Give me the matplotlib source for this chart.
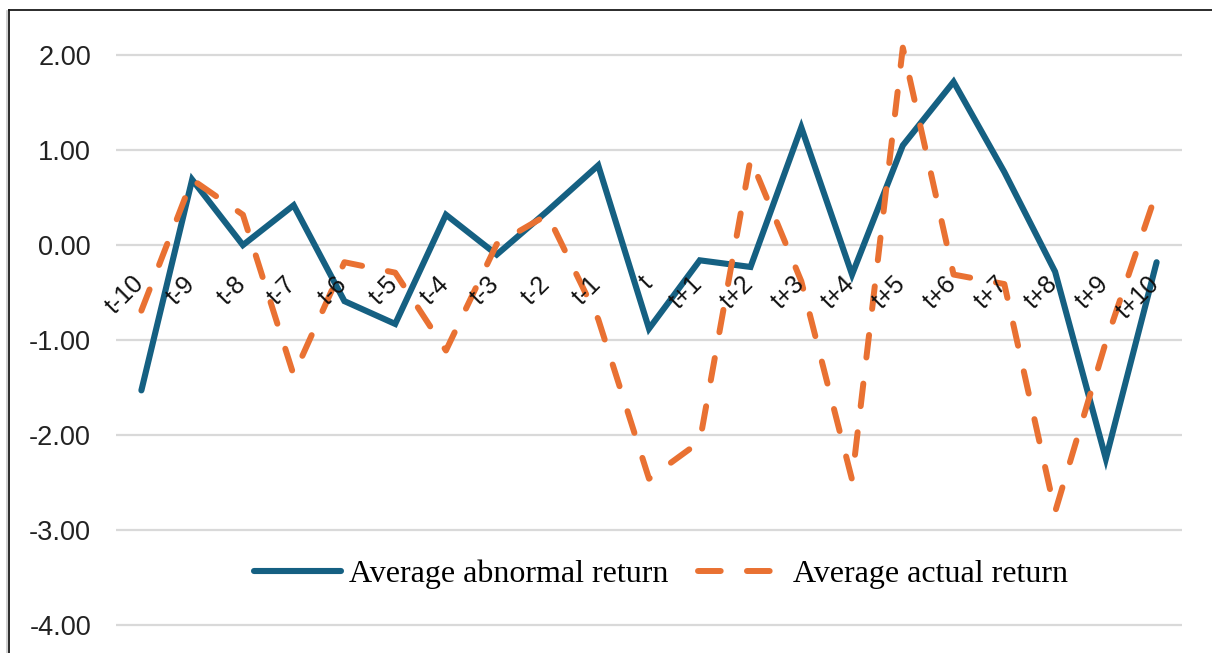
"""Average abnormal vs actual return around the event day (t-10 .. t+10)."""
import matplotlib
matplotlib.use("Agg")
import matplotlib.pyplot as plt
import matplotlib.transforms as mtransforms
from matplotlib.lines import Line2D

days = ["t-10", "t-9", "t-8", "t-7", "t-6", "t-5", "t-4", "t-3", "t-2", "t-1", "t",
        "t+1", "t+2", "t+3", "t+4", "t+5", "t+6", "t+7", "t+8", "t+9", "t+10"]
abnormal_return = [-1.53, 0.69, 0.00, 0.42, -0.59, -0.83, 0.32, -0.10, 0.36, 0.84, -0.88,
                   -0.16, -0.23, 1.24, -0.31, 1.05, 1.72, 0.77, -0.28, -2.25, -0.18]
actual_return = [-0.69, 0.69, 0.32, -1.37, -0.18, -0.29, -1.11, 0.01, 0.32, -0.78, -2.46,
                 -2.07, 0.91, -0.38, -2.47, 2.08, -0.31, -0.41, -2.81, -1.02, 0.56]
y_ticks = [2, 1, 0, -1, -2, -3, -4]

BLUE = "#156082"
ORANGE = "#E97132"
W, H = 1212, 653
DASH = (3.8, 4.4)

fig = plt.figure(figsize=(W / 100, H / 100), dpi=100)
ax = fig.add_axes([116 / W, 1.5 / H, (1182 - 116) / W, (651.5 - 12.5) / H])

x = list(range(len(days)))
ax.plot(x, abnormal_return, color=BLUE, lw=4.4, solid_joinstyle="miter",
        solid_capstyle="round", zorder=3)
ax.plot(x, actual_return, color=ORANGE, lw=4.3, dashes=DASH,
        dash_capstyle="round", zorder=4)

ax.set_xlim(-0.5, len(days) - 0.5)
ax.set_ylim(-4.28, 2.45)
ax.set_yticks(y_ticks)
ax.set_yticklabels([f"{v:.2f}" for v in y_ticks], family="Liberation Sans",
                   fontsize=19.5, color="#222222")
ax.tick_params(axis="y", length=0, pad=18)
ax.set_xticks([])
ax.grid(axis="y", color="#d9d9d9", lw=1.6, zorder=0)
for s in ax.spines.values():
    s.set_visible(False)

# category labels sit just under the zero line, rotated like Excel's
off = mtransforms.offset_copy(ax.transData, fig=fig, x=4, y=0, units="dots")
for i, lab in enumerate(days):
    ax.text(i, -0.42, lab, rotation=45, rotation_mode="anchor", ha="right",
            va="baseline", family="Liberation Sans", fontsize=18,
            color="#111111", transform=off, zorder=6)

handles = [
    Line2D([], [], color=BLUE, lw=4.4, solid_capstyle="round"),
    Line2D([], [], color=ORANGE, lw=4.3, dashes=DASH, dash_capstyle="round"),
]
fig.legend(handles, ["Average abnormal return", "Average actual return"],
           loc="center", bbox_to_anchor=(661 / W, 1 - 574 / H), ncol=2,
           frameon=False, handlelength=2.75, handletextpad=0.25, columnspacing=0.9,
           prop={"family": "Liberation Serif", "size": 23})

# chart area border (right and bottom edges are cropped off in the source)
fig.add_artist(Line2D([9 / W, 1], [1 - 10 / H, 1 - 10 / H], transform=fig.transFigure,
                      color="#1a1a1a", lw=1.3))
fig.add_artist(Line2D([9 / W, 9 / W], [0, 1 - 10 / H], transform=fig.transFigure,
                      color="#1a1a1a", lw=1.3))
fig.add_artist(Line2D([7 / W, 7 / W], [0, 1 - 11 / H], transform=fig.transFigure,
                      color="#c8c8c8", lw=1.2))

fig.savefig("out.png", dpi=100)
